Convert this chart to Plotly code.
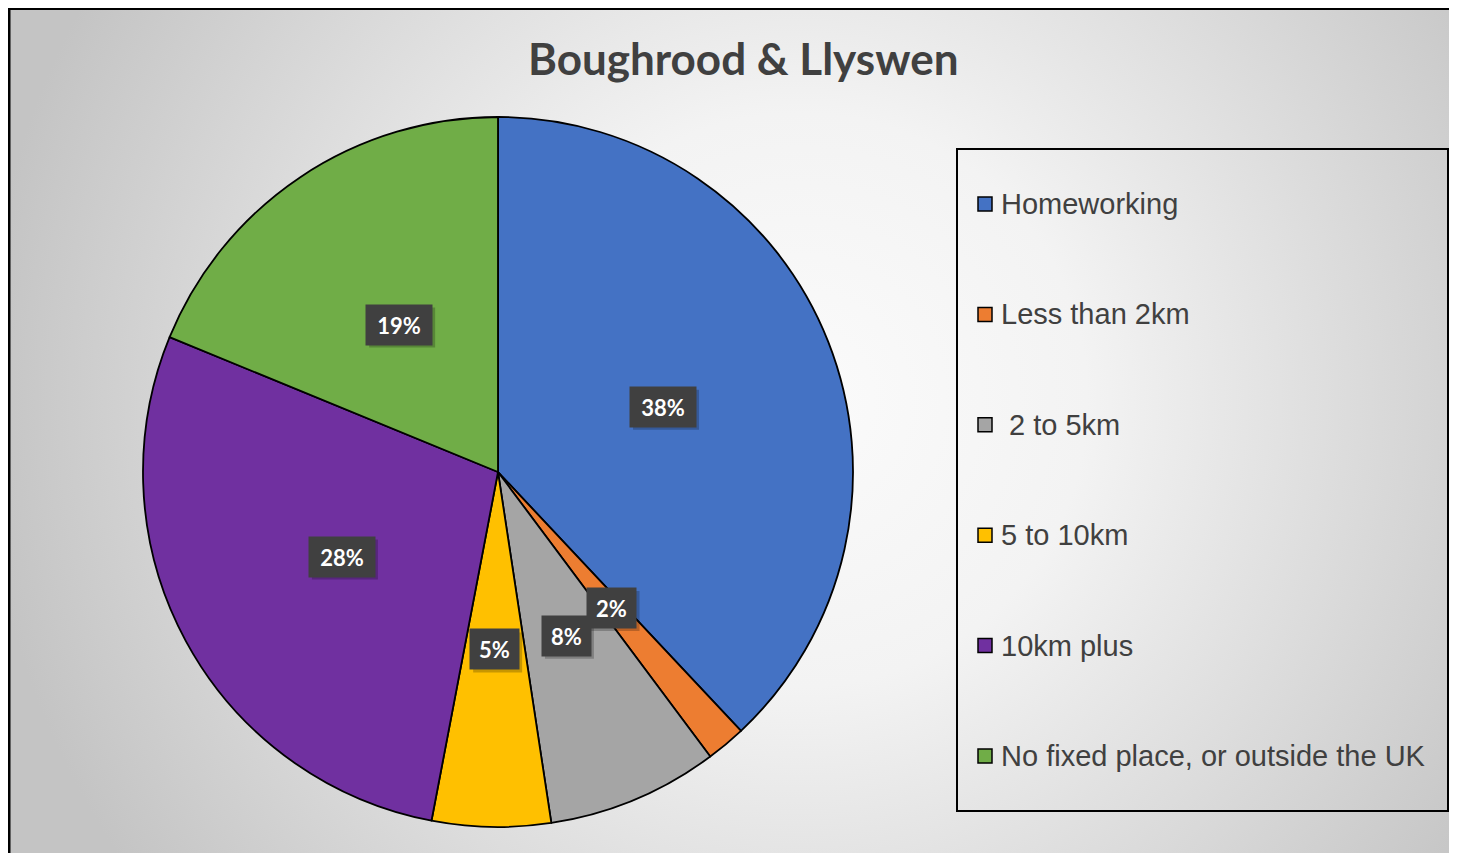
import base64
import math
import plotly.graph_objects as go

# ---- data ----
labels = ["Homeworking", "Less than 2km", " 2 to 5km", "5 to 10km", "10km plus",
          "No fixed place, or outside the UK"]
values = [38.0, 1.8, 7.8, 5.4, 28.2, 18.8]
colors = ["#4472C4", "#ED7D31", "#A5A5A5", "#FFC000", "#7030A0", "#70AD47"]
title_text = "Boughrood & Llyswen"

W, H = 1457, 853
OX, OY = 8, 8  # page offset of the figure (browser body margin)


def px(x):
    return (x - OX) / W


def py(y):
    return 1 - (y - OY) / H


# pie geometry (page pixels)
cx_px, cy_px, r_px = 498, 472, 355
dom_x = [px(cx_px - r_px), px(cx_px + r_px)]
dom_y = [py(cy_px + r_px), py(cy_px - r_px)]

fig = go.Figure()
fig.add_trace(go.Pie(
    labels=labels, values=values, sort=False, direction="clockwise", rotation=0,
    marker=dict(colors=colors, line=dict(color="#000000", width=1.8)),
    textinfo="none", hoverinfo="label+percent", showlegend=False,
    domain=dict(x=dom_x, y=dom_y),
))

# background radial gradient (style only)
svg = f'''<svg xmlns="http://www.w3.org/2000/svg" width="{W}" height="{H}" viewBox="0 0 {W} {H}" preserveAspectRatio="none">
<defs><radialGradient id="g" gradientUnits="userSpaceOnUse" cx="{800 - OX}" cy="{400 - OY}" r="820">
<stop offset="0" stop-color="#fbfbfb"/><stop offset="0.35" stop-color="#f3f3f3"/>
<stop offset="1" stop-color="#c4c4c4"/></radialGradient></defs>
<rect x="0" y="0" width="{W}" height="{H}" fill="url(#g)"/></svg>'''
src = "data:image/svg+xml;base64," + base64.b64encode(svg.encode()).decode()

shapes = []
annotations = []

# data labels at half radius along slice mid-angle
total = sum(values)
cum = 0.0
for v in values:
    mid = (cum + v / 2) / total
    cum += v
    th = 2 * math.pi * mid
    x = px(cx_px + 0.5 * r_px * math.sin(th))
    y = py(cy_px - 0.5 * r_px * math.cos(th))
    pct = f"{round(v / total * 100):d}%"
    bw = 66 if len(pct) >= 3 else 49
    bh = 40
    pad = 7
    # drop shadow
    shapes.append(dict(type="rect", xref="paper", yref="paper",
                       xsizemode="pixel", ysizemode="pixel", xanchor=x, yanchor=y,
                       x0=-bw / 2 + 3, x1=bw / 2 + 3, y0=-bh / 2 - 3, y1=bh / 2 - 3,
                       line=dict(width=0), fillcolor="rgba(0,0,0,0.22)"))
    annotations.append(dict(x=x, y=y, xref="paper", yref="paper", text=f"<b>{pct}</b>",
                            showarrow=False, xanchor="center", yanchor="middle",
                            width=bw - 2 * pad, height=bh - 2 * pad, align="center",
                            valign="middle",
                            font=dict(family="Lato", size=22, color="#ffffff"),
                            bgcolor="#404040", borderpad=pad))

# title
annotations.append(dict(x=px(743), y=py(58), xref="paper", yref="paper",
                        text=f"<b>{title_text}</b>", showarrow=False,
                        xanchor="center", yanchor="middle",
                        font=dict(family="Lato", size=44, color="#404040")))

# legend box + manual legend entries
shapes.append(dict(type="rect", xref="paper", yref="paper",
                   x0=px(957), x1=px(1448), y0=py(811), y1=py(149),
                   line=dict(color="#000000", width=2), fillcolor="rgba(0,0,0,0)"))
for i, (lab, col) in enumerate(zip(labels, colors)):
    yc = 204 + i * 110.4
    shapes.append(dict(type="rect", xref="paper", yref="paper",
                       x0=px(978), x1=px(992), y0=py(yc + 7), y1=py(yc - 7),
                       line=dict(color="#000000", width=1.5), fillcolor=col))
    annotations.append(dict(x=px(999), y=py(yc), xref="paper", yref="paper",
                            text=lab.replace(" ", "&nbsp;", 1) if lab.startswith(" ") else lab,
                            showarrow=False, xanchor="left", yanchor="middle",
                            font=dict(family="Liberation Sans", size=29, color="#404040")))

# outer chart border
shapes.append(dict(type="rect", xref="paper", yref="paper",
                   x0=px(9), x1=1.02, y0=-0.02, y1=py(8.5),
                   line=dict(color="#000000", width=3), fillcolor="rgba(0,0,0,0)"))

fig.update_layout(
    width=W, height=H, autosize=False,
    margin=dict(l=0, r=0, t=0, b=0),
    paper_bgcolor="#e6e6e6", plot_bgcolor="rgba(0,0,0,0)",
    showlegend=False,
    images=[dict(source=src, xref="paper", yref="paper", x=0, y=1, sizex=1, sizey=1,
                 sizing="stretch", xanchor="left", yanchor="top", layer="below")],
    shapes=shapes, annotations=annotations,
)

fig.write_html("out.html")
